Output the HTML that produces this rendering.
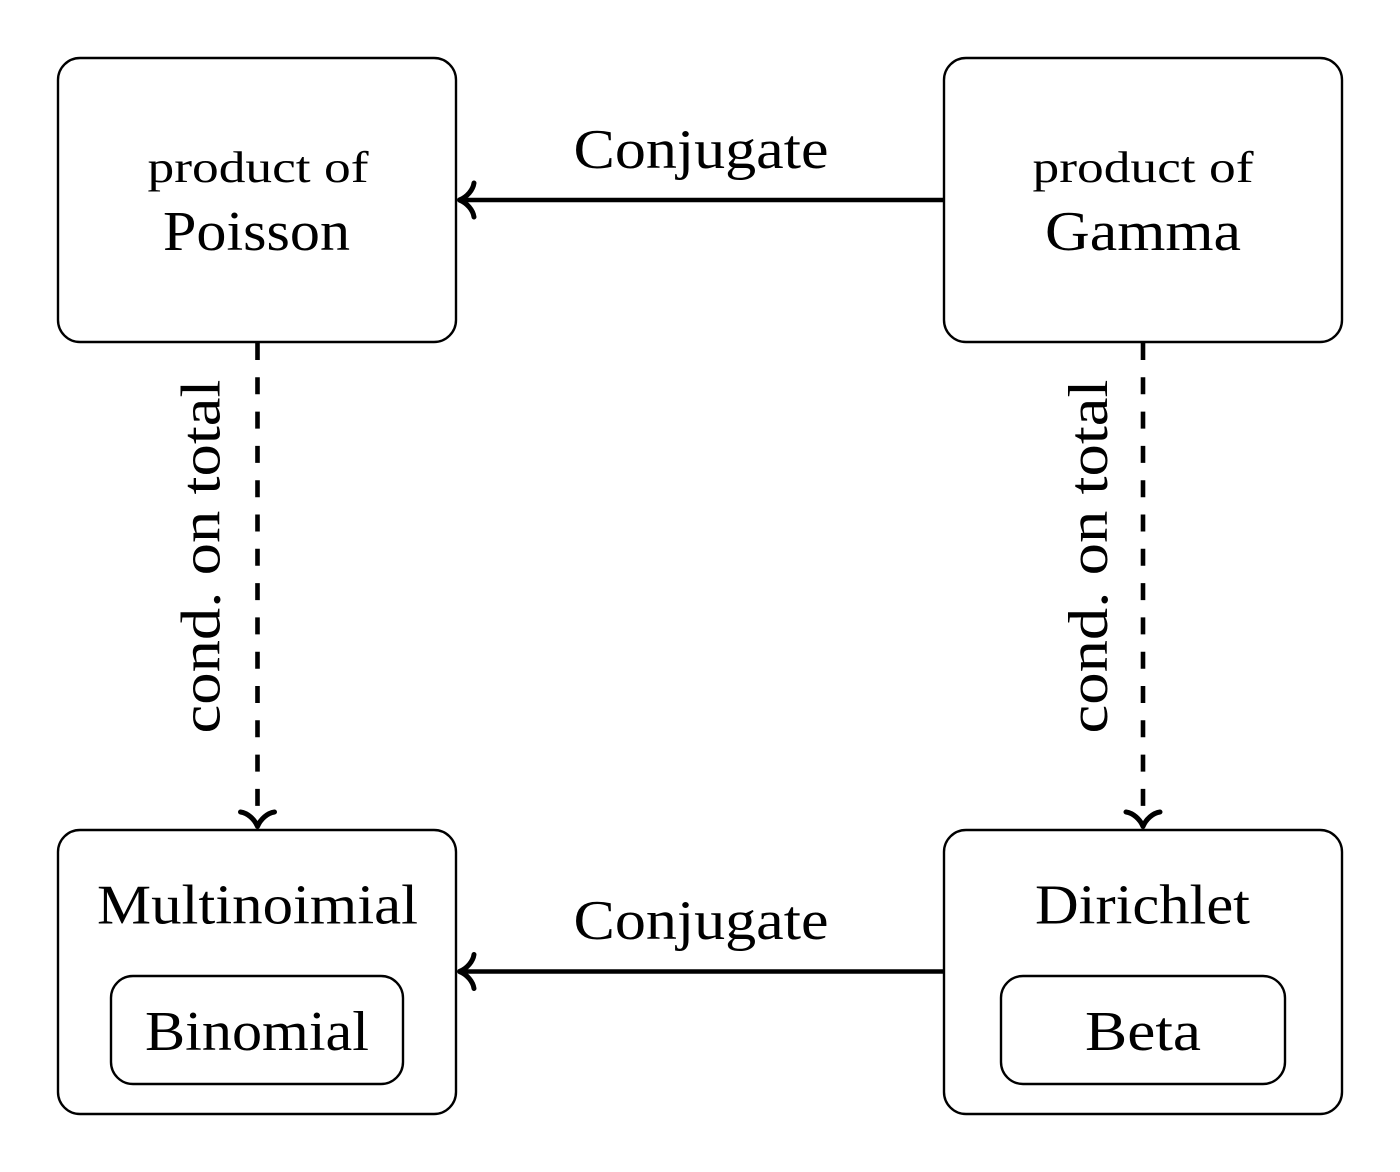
<!DOCTYPE html>
<html><head><meta charset="utf-8"><style>html,body{margin:0;padding:0;background:#fff}svg{display:block}text{font-family:"Liberation Serif",serif;fill:#000}</style></head><body>
<svg width="1400" height="1172" viewBox="0 0 1400 1172" xmlns="http://www.w3.org/2000/svg">
<g fill="none" stroke="#000" stroke-width="2.4">
<rect x="58" y="58" width="398" height="284" rx="22"/>
<rect x="944" y="58" width="398" height="284" rx="22"/>
<rect x="58" y="830" width="398" height="284" rx="22"/>
<rect x="944" y="830" width="398" height="284" rx="22"/>
<rect x="111" y="976" width="292" height="108" rx="22"/>
<rect x="1001" y="976" width="284" height="108" rx="22"/>
</g>
<g fill="none" stroke="#000" stroke-width="4.6">
<path d="M944 200H460"/>
<path d="M944 971.500H460"/>
<path d="M257.500 343V806" stroke-dasharray="17 17.300"/>
<path d="M1143 343V806" stroke-dasharray="17 17.300"/>
<g stroke-linecap="round" stroke-linejoin="round" stroke-width="5">
<path d="M474 183C473 190 467 197 459.500 200C467 203 473 210 474 217"/>
<path d="M474 954.500C473 961.500 467 968.500 459.500 971.500C467 974.500 473 981.500 474 988.500"/>
<path d="M240.500 812C247.500 813 254.500 819 257.500 826.500C260.500 819 267.500 813 274.500 812"/>
<path d="M1126 812C1133 813 1140 819 1143 826.500C1146 819 1153 813 1160 812"/>
</g>
</g>
<g font-size="44">
<text x="147.500" y="182" textLength="221" lengthAdjust="spacingAndGlyphs">product of</text>
<text x="1032.500" y="182" textLength="221" lengthAdjust="spacingAndGlyphs">product of</text>
</g>
<g font-size="56">
<text x="163" y="250" textLength="187" lengthAdjust="spacingAndGlyphs">Poisson</text>
<text x="1045" y="250" textLength="196" lengthAdjust="spacingAndGlyphs">Gamma</text>
<text x="573.500" y="168" textLength="255" lengthAdjust="spacingAndGlyphs">Conjugate</text>
<text x="573.500" y="939" textLength="255" lengthAdjust="spacingAndGlyphs">Conjugate</text>
<text x="97" y="923.500" textLength="321" lengthAdjust="spacingAndGlyphs">Multinoimial</text>
<text x="1035" y="923.500" textLength="215" lengthAdjust="spacingAndGlyphs">Dirichlet</text>
<text x="145" y="1050" textLength="224" lengthAdjust="spacingAndGlyphs">Binomial</text>
<text x="1085" y="1050" textLength="116" lengthAdjust="spacingAndGlyphs">Beta</text>
<text transform="translate(219.500 733.500) rotate(-90)" textLength="354" lengthAdjust="spacingAndGlyphs">cond. on total</text>
<text transform="translate(1107 733.500) rotate(-90)" textLength="354" lengthAdjust="spacingAndGlyphs">cond. on total</text>
</g>
</svg>
</body></html>
